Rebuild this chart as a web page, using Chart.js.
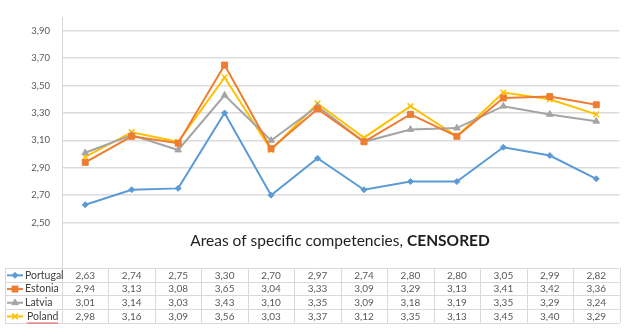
<!DOCTYPE html>
<html>
<head>
<meta charset="utf-8">
<script src="https://cdn.jsdelivr.net/npm/chart.js@4.4.1/dist/chart.umd.min.js"></script>
<style>
  html, body { margin: 0; padding: 0; background: #fff; }
  #wrap { width: 625px; height: 328px; }
</style>
</head>
<body>
<div id="wrap"><canvas id="myChart" width="625" height="328"></canvas></div>
<script>
// twelve competency areas, no names shown in the table header
const categorias = ['', '', '', '', '', '', '', '', '', '', '', ''];

const portugal = [2.63, 2.74, 2.75, 3.30, 2.70, 2.97, 2.74, 2.80, 2.80, 3.05, 2.99, 2.82];
const estonia  = [2.94, 3.13, 3.08, 3.65, 3.04, 3.33, 3.09, 3.29, 3.13, 3.41, 3.42, 3.36];
const latvia   = [3.01, 3.14, 3.03, 3.43, 3.10, 3.35, 3.09, 3.18, 3.19, 3.35, 3.29, 3.24];
const poland   = [2.98, 3.16, 3.09, 3.56, 3.03, 3.37, 3.12, 3.35, 3.13, 3.45, 3.40, 3.29];

const paises = ['Portugal', 'Estonia', 'Latvia', 'Poland'];
const marcasY = [2.5, 2.7, 2.9, 3.1, 3.3, 3.5, 3.7, 3.9];

const tituloEje = 'Areas of specific competencies, ';
const tituloNegrita = 'CENSORED';

const fuente = 'Lato, "Open Sans", sans-serif';
const coma = v => v.toFixed(2).replace('.', ',');

function serie(label, data, color, estilo, radio) {
    return {
        label: label,
        data: data,
        borderColor: color,
        backgroundColor: color,
        borderWidth: 2,
        pointStyle: estilo,
        pointRadius: radio,
        pointBorderWidth: estilo === 'crossRot' ? 1.5 : 1,
        pointBorderColor: color,
        pointBackgroundColor: color,
        tension: 0,
        fill: false
    };
}

// data table under the plot, plus the axis title
const tablaDatos = {
    id: 'tablaDatos',
    afterDraw(chart) {
        const ctx = chart.ctx;
        const x = chart.scales.x;
        const area = chart.chartArea;
        const filaTop = 268;
        const filaAlto = 13.7;
        const izq = 5;
        const anchoCol = (area.right - area.left) / categorias.length;

        ctx.save();

        // title
        ctx.font = '15.5px ' + fuente;
        const w1 = ctx.measureText(tituloEje).width;
        ctx.font = 'bold 15.5px ' + fuente;
        const w2 = ctx.measureText(tituloNegrita).width;
        let tx = 340 - (w1 + w2) / 2;
        ctx.fillStyle = '#1f1f1f';
        ctx.textBaseline = 'middle';
        ctx.textAlign = 'left';
        ctx.font = '15.5px ' + fuente;
        ctx.fillText(tituloEje, tx, 241);
        ctx.font = 'bold 15.5px ' + fuente;
        ctx.fillText(tituloNegrita, tx + w1, 241);

        // grid of the table
        ctx.strokeStyle = '#d9d9d9';
        ctx.lineWidth = 1;
        ctx.beginPath();
        for (let r = 0; r <= paises.length; r++) {
            const y = Math.round(filaTop + r * filaAlto) + 0.5;
            ctx.moveTo(izq, y);
            ctx.lineTo(area.right, y);
        }
        ctx.moveTo(izq + 0.5, filaTop);
        ctx.lineTo(izq + 0.5, filaTop + paises.length * filaAlto);
        for (let c = 0; c <= categorias.length; c++) {
            const cx = Math.round(area.left + c * anchoCol) + 0.5;
            ctx.moveTo(cx, c === 0 ? area.top : filaTop);
            ctx.lineTo(cx, filaTop + paises.length * filaAlto);
        }
        ctx.stroke();

        // rows: legend key, name, values
        chart.data.datasets.forEach((ds, r) => {
            const cy = filaTop + r * filaAlto + filaAlto / 2 + 0.5;
            ctx.strokeStyle = ds.borderColor;
            ctx.fillStyle = ds.borderColor;
            ctx.lineWidth = 2;
            ctx.beginPath();
            ctx.moveTo(7, cy);
            ctx.lineTo(23, cy);
            ctx.stroke();
            ctx.lineWidth = ds.pointBorderWidth;
            Chart.helpers.drawPoint(ctx, {
                pointStyle: ds.pointStyle,
                radius: ds.pointRadius,
                rotation: 0,
                borderWidth: ds.pointBorderWidth
            }, 15, cy);

            ctx.fillStyle = '#404040';
            ctx.font = '10.5px ' + fuente;
            ctx.textAlign = 'left';
            const nx = ds.label === 'Poland' ? 27 : 25;
            ctx.fillText(ds.label, nx, cy);

            if (ds.label === 'Poland') {
                // spell-check squiggle under the name
                const ancho = ctx.measureText(ds.label).width;
                ctx.strokeStyle = '#e03030';
                ctx.lineWidth = 0.8;
                ctx.beginPath();
                for (let k = 0; k <= ancho; k += 1) {
                    const yy = cy + 6 + (k % 2 === 0 ? 0 : 1.2);
                    if (k === 0) ctx.moveTo(nx + k, yy); else ctx.lineTo(nx + k, yy);
                }
                ctx.stroke();
            }

            ctx.fillStyle = '#595959';
            ctx.font = '10px ' + fuente;
            ctx.textAlign = 'center';
            ds.data.forEach((v, i) => {
                ctx.fillText(coma(v), x.getPixelForValue(i), cy);
            });
        });

        ctx.restore();
    }
};

new Chart(document.getElementById('myChart'), {
    type: 'line',
    data: {
        labels: categorias,
        datasets: [
            serie(paises[0], portugal, '#5b9bd5', 'rectRot', 3),
            serie(paises[1], estonia,  '#ed7d31', 'rect', 4.2),
            serie(paises[2], latvia,   '#a5a5a5', 'triangle', 3.8),
            serie(paises[3], poland,   '#ffc000', 'crossRot', 4)
        ]
    },
    options: {
        responsive: false,
        animation: false,
        layout: { padding: { top: 7, bottom: 61, left: 0, right: 5 } },
        plugins: {
            legend: { display: false },
            tooltip: { enabled: false }
        },
        scales: {
            x: {
                display: false,
                offset: true
            },
            y: {
                min: 2.176,
                max: 3.996,
                afterBuildTicks(scale) {
                    scale.ticks = marcasY.map(v => ({ value: v }));
                },
                afterFit(scale) {
                    scale.width = 62;
                },
                grid: {
                    color: '#dcdcdc',
                    lineWidth: 1.5,
                    drawTicks: false
                },
                border: { color: '#d9d9d9', width: 1 },
                ticks: {
                    padding: 12,
                    color: '#595959',
                    font: { family: fuente, size: 9.5 },
                    callback: v => coma(v)
                }
            }
        }
    },
    plugins: [tablaDatos]
});
</script>
</body>
</html>
